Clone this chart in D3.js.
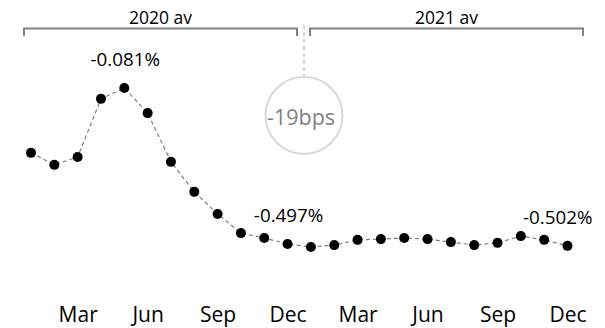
<!DOCTYPE html>
<html>
<head>
<meta charset="utf-8">
<script src="https://cdn.jsdelivr.net/npm/d3@7"></script>
<style>
  html, body { margin: 0; padding: 0; background: #fff; }
  svg { display: block; font-family: "Open Sans", sans-serif; }
</style>
</head>
<body>
<svg id="chart" width="605" height="328"></svg>
<script>
// Monthly yield, Jan 2020 – Dec 2021 (percent)
const months = ["Jan","Feb","Mar","Apr","May","Jun","Jul","Aug","Sep","Oct","Nov","Dec"];
const periods = [
  ...months.map(m => "2020-" + m),
  ...months.map(m => "2021-" + m)
];
const values2020 = [-0.254, -0.286, -0.265, -0.110, -0.081, -0.148, -0.278, -0.358, -0.417, -0.468, -0.481, -0.497];
const values2021 = [-0.505, -0.500, -0.486, -0.484, -0.481, -0.484, -0.492, -0.500, -0.494, -0.476, -0.486, -0.502];
const tickMonths = ["Mar", "Jun", "Sep", "Dec"];
const yearLabels = ["2020 av", "2021 av"];
const labelledPeriods = ["2020-May", "2020-Dec", "2021-Dec"];

const values = [...values2020, ...values2021];
const data = periods.map((p, i) => ({ period: p, value: values[i] }));

const svg = d3.select("#chart");

const x = d3.scalePoint().domain(periods).range([31, 567.5]);
const y = d3.scaleLinear().domain([0, -0.6]).range([57.6, 282.6]);

// dashed connecting line
const line = d3.line().x(d => x(d.period)).y(d => y(d.value));
svg.append("path")
  .datum(data)
  .attr("d", line)
  .attr("fill", "none")
  .attr("stroke", "#7f7f7f")
  .attr("stroke-width", 1.2)
  .attr("stroke-dasharray", "4,3");

// markers
svg.append("g").selectAll("circle")
  .data(data)
  .join("circle")
  .attr("cx", d => x(d.period))
  .attr("cy", d => y(d.value))
  .attr("r", 5)
  .attr("fill", "#000");

// value call-outs (plain hyphen for the sign)
const locale = d3.formatLocale({ decimal: ".", thousands: ",", grouping: [3], currency: ["", ""], minus: "-" });
const fmt = locale.format(".3f");
svg.append("g").selectAll("text")
  .data(data.filter(d => labelledPeriods.includes(d.period)))
  .join("text")
  .attr("x", d => d.period === "2021-Dec" ? x(d.period) + 25 : x(d.period) + 1)
  .attr("y", d => y(d.value) - 22)
  .attr("text-anchor", d => d.period === "2021-Dec" ? "end" : "middle")
  .attr("font-size", 18.8)
  .attr("fill", "#000")
  .text(d => fmt(d.value) + "%");

// x axis: quarter-end month names only
const xAxis = d3.axisBottom(x)
  .tickValues(periods.filter(p => tickMonths.includes(p.slice(5))))
  .tickFormat(p => p.slice(5))
  .tickSize(0)
  .tickPadding(0);
const ax = svg.append("g").attr("transform", "translate(0,306)").call(xAxis);
ax.select(".domain").remove();
ax.selectAll("text")
  .attr("font-family", "Open Sans, sans-serif")
  .attr("font-size", 21)
  .attr("fill", "#000")
  .attr("dy", "0.76em");

// year brackets
const bracketY = 28.5, bracketDrop = 7.5;
const brackets = [
  { label: yearLabels[0], x0: 24, x1: 297 },
  { label: yearLabels[1], x0: 310, x1: 583 }
];
const bg = svg.append("g");
brackets.forEach(b => {
  bg.append("path")
    .attr("d", `M${b.x0},${bracketY + bracketDrop}V${bracketY}H${b.x1}V${bracketY + bracketDrop}`)
    .attr("fill", "none")
    .attr("stroke", "#808080")
    .attr("stroke-width", 2);
  bg.append("text")
    .attr("x", (b.x0 + b.x1) / 2)
    .attr("y", 24)
    .attr("text-anchor", "middle")
    .attr("font-size", 17.5)
    .attr("fill", "#000")
    .text(b.label);
});

// year-over-year change in averages
const avgChangeBps = Math.round((d3.mean(values2021) - d3.mean(values2020)) * 100);
const cx = 304, cy = 115.5, r = 38.5;
svg.append("line")
  .attr("x1", cx).attr("x2", cx)
  .attr("y1", 25).attr("y2", cy - r)
  .attr("stroke", "#bfbfbf")
  .attr("stroke-width", 1.3)
  .attr("stroke-dasharray", "4,3");
svg.append("circle")
  .attr("cx", cx).attr("cy", cy).attr("r", r)
  .attr("fill", "#fff")
  .attr("stroke", "#d9d9d9")
  .attr("stroke-width", 2);
svg.append("text")
  .attr("x", cx - 3)
  .attr("y", 125)
  .attr("text-anchor", "middle")
  .attr("font-size", 21.5)
  .attr("fill", "#7f7f7f")
  .text(avgChangeBps + "bps");
</script>
</body>
</html>
